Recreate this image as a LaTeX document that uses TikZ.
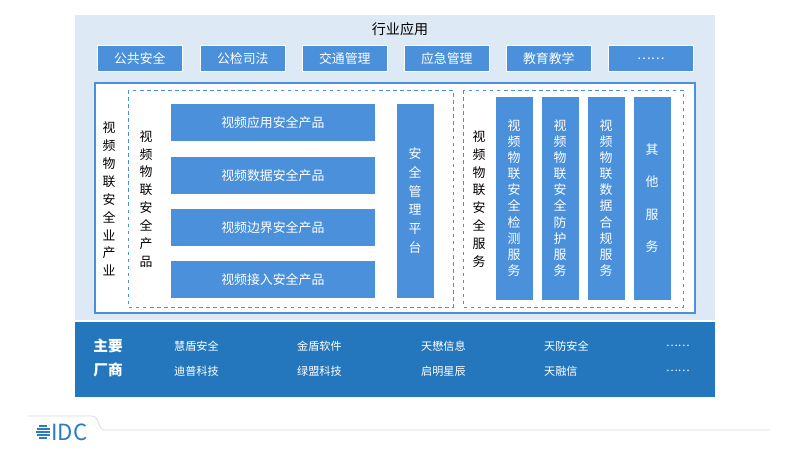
\documentclass[tikz,border=0pt]{standalone}
\usepackage{fontspec}
\setmainfont{Noto Sans CJK SC}
\definecolor{bandlight}{HTML}{DDEAF6}
\definecolor{boxblue}{HTML}{4A90DA}
\definecolor{banddark}{HTML}{2577BD}
\definecolor{idcblue}{HTML}{2A7BC4}
\begin{document}
\begin{tikzpicture}[x=0.03cm,y=-0.03cm,
  bar/.style={fill=boxblue,draw=white,line width=0.6pt,text=white,font=\fontsize{11}{13}\selectfont},
  vtext/.style={align=center,font=\fontsize{11}{15.3}\selectfont},
  vbar/.style={bar,align=center,font=\fontsize{11}{13.8}\selectfont},
  dbox/.style={draw=boxblue,dashed,line width=0.6pt},
  firm/.style={text=white,anchor=west,font=\fontsize{9.5}{11}\selectfont}]
\useasboundingbox (0,0) rectangle (800,450);
% industry band
\fill[bandlight] (75,15) rectangle (715,320);
\node (title) at (400,29) {\fontsize{12}{14}\selectfont 行业应用};
\foreach \x/\t in {97/公共安全,200/公检司法,302/交通管理,404/应急管理,506/教育教学,608/……}
  \node[bar,minimum width=85*0.03cm,minimum height=26*0.03cm,anchor=north west] (app-\x) at (\x,45) {\t};
% main frame
\draw[boxblue,fill=white,line width=1pt] (95,83) rectangle (695,313);
\node[vtext] (industry) at (109,199) {视\\频\\物\\联\\安\\全\\业\\产\\业};
\draw[dbox] (128,90) rectangle (453,307);
\node[vtext] (products) at (146,199) {视\\频\\物\\联\\安\\全\\产\\品};
\foreach \y/\t in {103/视频应用安全产品,156/视频数据安全产品,208/视频边界安全产品,260/视频接入安全产品}
  \node[bar,minimum width=205*0.03cm,minimum height=38*0.03cm,anchor=north west] (prod-\y) at (170,\y) {\t};
\node[vbar,font=\fontsize{11}{16}\selectfont,minimum width=38*0.03cm,minimum height=195*0.03cm] (platform) at (415,200.5) {安\\全\\管\\理\\平\\台};
\draw[dbox] (463,90) rectangle (683,307);
\node[vtext] (services) at (479,199) {视\\频\\物\\联\\安\\全\\服\\务};
\foreach \x/\t in {514/视\\频\\物\\联\\安\\全\\检\\测\\服\\务,560/视\\频\\物\\联\\安\\全\\防\\护\\服\\务,606/视\\频\\物\\联\\数\\据\\合\\规\\服\\务,652/其\\\\他\\\\服\\\\务}
  \node[vbar,minimum width=38*0.03cm,minimum height=204*0.03cm] (svc-\x) at (\x,198) {\t};
% vendors band
\fill[banddark] (75,322) rectangle (715,397);
\node[text=white,font=\fontsize{12.5}{21}\selectfont\bfseries,align=left] (vendors) at (108,358) {主要\\厂商};
\foreach \x/\a/\b in {170/慧盾安全/迪普科技,293/金盾软件/绿盟科技,417/天懋信息/启明星辰,540/天防安全/天融信,662/……/……}{
  \node[firm] (v1-\x) at (\x,346) {\a};
  \node[firm] (v2-\x) at (\x,371) {\b};}
% logo
\draw[gray!30,line width=0.6pt] (28,416) -- (92,416) to[out=0,in=180] (105,430) -- (770,430);
\foreach \i/\w in {0/4,1/6.5,2/7,3/6.5,4/4}
  \fill[idcblue] (43-\w,425+\i*3) rectangle (43+\w,426.8+\i*3);
\node[text=idcblue,font=\fontsize{19}{19}\selectfont,anchor=west,inner sep=0pt] (logo) at (51,432) {IDC};
\end{tikzpicture}
\end{document}
